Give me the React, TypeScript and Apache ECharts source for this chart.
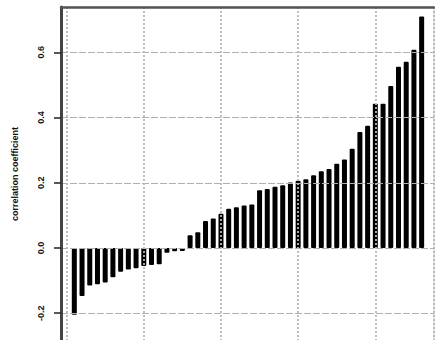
import React, { useEffect, useRef } from "react";
import * as echarts from "echarts";

// correlation coefficient per ranked item (1..46)
const coefficients = [
  -0.205, -0.147, -0.115, -0.111, -0.106, -0.09, -0.073, -0.066, -0.062, -0.055,
  -0.052, -0.05, -0.015, -0.01, -0.009, 0.039, 0.048, 0.083, 0.09, 0.105,
  0.12, 0.125, 0.13, 0.133, 0.177, 0.181, 0.188, 0.192, 0.201, 0.206,
  0.211, 0.223, 0.235, 0.242, 0.258, 0.271, 0.304, 0.356, 0.375, 0.442,
  0.442, 0.497, 0.556, 0.571, 0.608, 0.71,
];
const yTicks = [-0.4, -0.2, 0, 0.2, 0.4, 0.6];
const yLabels = [-0.2, 0, 0.2, 0.4, 0.6];
const yTitle = "correlation coefficient";

export default function App() {
  const ref = useRef<HTMLDivElement>(null);
  useEffect(() => {
    if (!ref.current) return;
    const chart = echarts.init(ref.current, null, { renderer: "svg" });
    const font = "Liberation Sans";
    chart.setOption({
      animation: false,
      backgroundColor: "#ffffff",
      grid: {
        left: 61,
        right: 1,
        top: 7,
        bottom: 1.6,
        show: true,
        borderColor: "#c8c8c8",
        borderWidth: 1,
        containLabel: false,
        outerBoundsMode: "none",
      },
      xAxis: {
        type: "value",
        position: "top",
        min: -0.725,
        max: 47.6,
        splitNumber: 5,
        z: 3,
        axisLine: { show: true, onZero: false, lineStyle: { color: "#555", width: 2.5 } },
        axisTick: { show: false },
        axisLabel: { show: false },
        splitLine: {
          show: true,
          lineStyle: { color: "#b8b8b8", width: 1.8, type: [2, 2] },
        },
      },
      yAxis: {
        type: "value",
        min: -0.4,
        max: 0.739,
        interval: 0.2,
        z: 3,
        axisLine: { show: true, onZero: false, lineStyle: { color: "#444", width: 3 } },
        axisTick: {
          show: true,
          length: 7,
          customValues: yTicks,
          lineStyle: { color: "#222", width: 1.5 },
        },
        axisLabel: {
          show: true,
          rotate: 90,
          margin: 16,
          customValues: yLabels,
          fontFamily: font,
          fontWeight: "bold",
          fontSize: 9,
          color: "#111",
          formatter: (v: number) => {
            const r = Math.round(v * 10) / 10;
            return Math.abs(v - r) < 1e-6 ? r.toFixed(1) : "";
          },
        },
        splitLine: {
          show: true,
          lineStyle: { color: "#b0b0b0", width: 1, type: [7, 2] },
        },
      },
      graphic: [
        {
          type: "text",
          x: 15,
          y: 174,
          rotation: Math.PI / 2,
          style: {
            text: yTitle,
            font: `bold 9px "${font}"`,
            fill: "#111",
            textAlign: "center",
            textVerticalAlign: "middle",
          },
        },
      ],
      series: [
        {
          type: "bar",
          barWidth: 5,
          itemStyle: { color: "#000", borderRadius: 1 },
          data: coefficients.map((v, i) => [i + 1, v]),
        },
      ],
    });
    return () => chart.dispose();
  }, []);
  return (
    <div
      style={{
        position: "fixed",
        left: 0,
        top: 0,
        width: 435,
        height: 340,
        overflow: "hidden",
        background: "#fff",
      }}
    >
      <div ref={ref} style={{ width: 435, height: 380 }} />
    </div>
  );
}
